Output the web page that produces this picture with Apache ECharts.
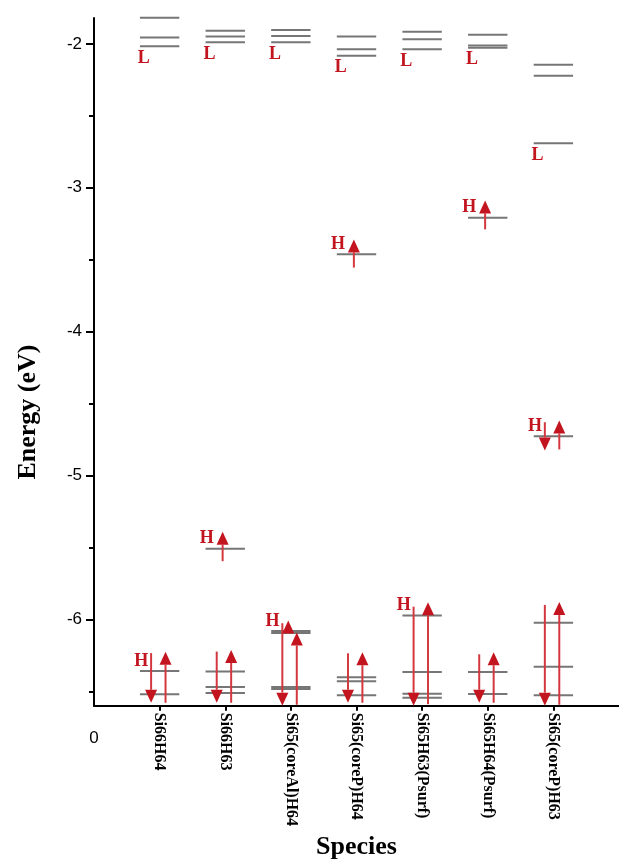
<!DOCTYPE html>
<html>
<head>
<meta charset="utf-8">
<script src="https://cdn.jsdelivr.net/npm/echarts@6/dist/echarts.min.js"></script>
<style>
  html, body { margin: 0; padding: 0; background: #fff; }
  #chart { width: 619px; height: 865px; }
</style>
</head>
<body>
<div id="chart"></div>
<script>
// species on the x axis (positions 1..7)
var species = ['Si66H64', 'Si66H63', 'Si65(coreAl)H64', 'Si65(coreP)H64',
  'Si65H63(Psurf)', 'Si65H64(Psurf)', 'Si65(coreP)H63'];

// energy levels (eV) for each species
var levels = [
  [-1.818, -1.956, -2.016, -6.360, -6.521],
  [-1.908, -1.949, -1.988, -5.510, -6.362, -6.470, -6.512],
  [-1.903, -1.945, -1.988, -6.081, -6.095, -6.470, -6.484],
  [-1.949, -2.037, -2.083, -3.463, -6.403, -6.431, -6.528],
  [-1.915, -1.967, -2.037, -5.974, -6.367, -6.517, -6.545],
  [-1.936, -2.012, -2.026, -3.208, -6.367, -6.519],
  [-2.145, -2.221, -2.690, -4.727, -6.023, -6.330, -6.528]
];

// HOMO / LUMO levels (H / L marks)
var homo = [-6.360, -5.510, -6.081, -3.463, -5.974, -3.208, -4.727];
var lumo = [-2.016, -1.988, -1.988, -2.083, -2.037, -2.026, -2.690];

// electron arrows: [species index, spin, from energy, to energy]
var arrows = [
  [0, 'down', -6.235, -6.58], [0, 'up', -6.58, -6.225],
  [1, 'single', -5.596, -5.392], [1, 'down', -6.224, -6.58], [1, 'up', -6.58, -6.213],
  [2, 'down', -6.027, -6.6], [2, 'single', -6.09, -6.009], [2, 'up', -6.594, -6.092],
  [3, 'single', -3.555, -3.359], [3, 'down', -6.236, -6.58], [3, 'up', -6.58, -6.229],
  [4, 'down', -5.912, -6.6], [4, 'up', -6.59, -5.882],
  [5, 'single', -3.289, -3.088], [5, 'down', -6.243, -6.58], [5, 'up', -6.58, -6.229],
  [6, 'down', -4.63, -4.826], [6, 'up', -4.819, -4.618], [6, 'down', -5.90, -6.6], [6, 'up', -6.594, -5.88]
];

var yTicks = [-6, -5, -4, -3, -2];
var yMinorTicks = [-6.5, -5.5, -4.5, -3.5, -2.5];

var red = '#c3151f';
var spinShift = { down: -0.13, up: 0.09, single: -0.04 };

var levelData = [];
levels.forEach(function (list, i) {
  list.forEach(function (e) { levelData.push([i + 1, e]); });
});
var arrowData = arrows.map(function (a) {
  return [a[0] + 1 + spinShift[a[1]], a[2], a[3]];
});
var markData = [];
homo.forEach(function (e, i) { markData.push([i + 1, e, 'H']); });
lumo.forEach(function (e, i) { markData.push([i + 1, e, 'L']); });

var chart = echarts.init(document.getElementById('chart'));

var option = {
  animation: false,
  grid: { left: 94, top: 18, width: 528, height: 690 },
  xAxis: [
    {
      type: 'value', min: 0, max: 8, position: 'bottom',
      name: 'Species', nameLocation: 'middle', nameGap: 126,
      nameTextStyle: { fontFamily: 'Liberation Serif', fontWeight: 'bold', fontSize: 26, color: '#000' },
      axisLine: { lineStyle: { color: '#000', width: 2 } },
      axisTick: { customValues: [1, 2, 3, 4, 5, 6, 7], length: 5, lineStyle: { color: '#000', width: 2 } },
      axisLabel: {
        customValues: [1, 2, 3, 4, 5, 6, 7], rotate: -90, margin: 7,
        fontFamily: 'Liberation Serif', fontWeight: 'bold', fontSize: 16, color: '#000',
        formatter: function (v) { return species[Math.round(v) - 1] || ''; }
      },
      splitLine: { show: false }
    },
    {
      type: 'value', min: 0, max: 8, position: 'bottom',
      axisLine: { show: false },
      axisTick: { show: false },
      axisLabel: { customValues: [0], margin: 24, fontFamily: 'Liberation Sans', fontSize: 17, color: '#000' },
      splitLine: { show: false }
    }
  ],
  yAxis: [
    {
      type: 'value', min: -6.6, max: -1.82,
      axisLine: { show: true, lineStyle: { color: '#000', width: 2 } },
      axisTick: { customValues: yTicks, length: 8, lineStyle: { color: '#000', width: 2 } },
      axisLabel: { customValues: yTicks, margin: 12, fontFamily: 'Liberation Sans', fontSize: 17, color: '#000' },
      splitLine: { show: false }
    },
    {
      type: 'value', min: -6.6, max: -1.82, position: 'left',
      axisLine: { show: false },
      axisTick: { customValues: yMinorTicks, length: 5, lineStyle: { color: '#000', width: 2 } },
      axisLabel: { show: false },
      splitLine: { show: false }
    }
  ],
  graphic: [{
    type: 'text', x: 28, y: 412, rotation: Math.PI / 2,
    style: {
      text: 'Energy (eV)', font: 'bold 26px "Liberation Serif"', fill: '#000',
      align: 'center', verticalAlign: 'middle'
    }
  }],
  series: [
    {
      // energy levels
      type: 'custom', data: levelData, clip: false,
      renderItem: function (params, api) {
        var x = api.value(0), e = api.value(1);
        var p1 = api.coord([x - 0.3, e]);
        var p2 = api.coord([x + 0.3, e]);
        return {
          type: 'line',
          shape: { x1: p1[0], y1: p1[1], x2: p2[0], y2: p2[1] },
          style: { stroke: '#767676', lineWidth: 2 }
        };
      }
    },
    {
      // spin arrows
      type: 'custom', data: arrowData, clip: false,
      renderItem: function (params, api) {
        var x = api.value(0);
        var a = api.coord([x, api.value(1)]);
        var b = api.coord([x, api.value(2)]);
        var dir = b[1] < a[1] ? -1 : 1;
        var headLen = 13, headW = 6;
        var base = b[1] - dir * headLen;
        return {
          type: 'group',
          children: [
            {
              type: 'line',
              shape: { x1: a[0], y1: a[1], x2: a[0], y2: base },
              style: { stroke: '#d4383f', lineWidth: 2 }
            },
            {
              type: 'polygon',
              shape: { points: [[b[0], b[1]], [b[0] - headW, base], [b[0] + headW, base]] },
              style: { fill: red }
            }
          ]
        };
      }
    },
    {
      // H / L marks
      type: 'custom', data: markData, clip: false,
      renderItem: function (params, api) {
        var x = api.value(0), e = api.value(1);
        var isH = markData[params.dataIndex][2] === 'H';
        var p = api.coord([x + (isH ? -0.28 : -0.24), e]);
        return {
          type: 'text',
          x: p[0], y: p[1] + (isH ? -10 : 12),
          style: {
            text: isH ? 'H' : 'L', font: 'bold 18px "Liberation Serif"', fill: red,
            align: 'center', verticalAlign: 'middle'
          }
        };
      }
    }
  ]
};

chart.setOption(option);
</script>
</body>
</html>
